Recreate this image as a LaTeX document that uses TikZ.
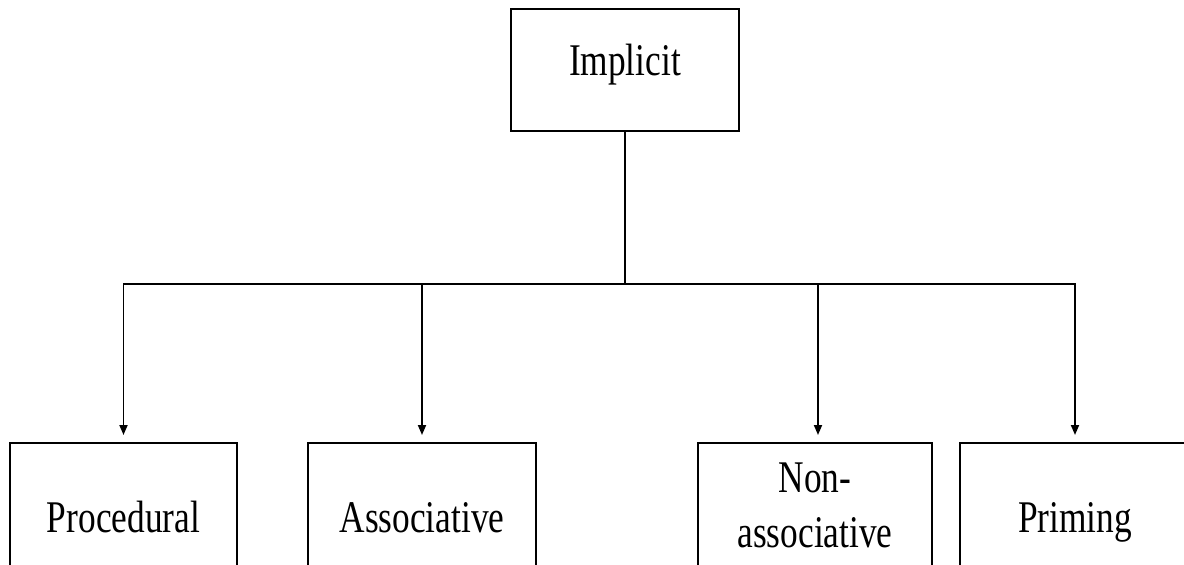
\documentclass[tikz,border=0pt]{standalone}
\usepackage{fontspec}
\setmainfont{Liberation Serif}
\newfontfamily\boxfont[FakeStretch=0.78]{Liberation Serif}
\usetikzlibrary{arrows.meta}
\begin{document}
\begin{tikzpicture}[x=0.5pt,y=-0.5pt,
  box/.style={draw=black,line width=1pt,fill=white,inner sep=0pt,
    font=\boxfont\fontsize{22.65}{27.5}\selectfont,align=center},
  oneline/.style={box,text height=15.5pt,text depth=5pt,minimum height=78.5pt},
  link/.style={draw=black,line width=0.9pt},
  arr/.style={link,-{Triangle[length=5pt,width=4pt]},shorten >=3.5pt}]
  \clip (0,0) rectangle (1184,564);
  \useasboundingbox (0,0) rectangle (1184,564);
  \fill[white] (0,0) rectangle (1184,564);

  % root
  \node[box,text height=15.5pt,text depth=10.5pt,minimum width=114pt,minimum height=61pt]
    (implicit) at (625,70) {Implicit};

  % children (their lower parts run past the lower edge)
  \node[oneline,minimum width=113.5pt] (proc)  at (123.5,521.5) {Procedural};
  \node[oneline,minimum width=114pt]   (assoc) at (422,521.5)   {Associative};
  \node[box,minimum width=117pt,minimum height=62.5pt] (nonas) at (815,505.5) {Non-\\associative};
  \node[oneline,minimum width=115pt]   (prim)  at (1075,521.5)  {Priming};

  % trunk and branches
  \coordinate (bus) at (625,284);
  \draw[link] (implicit.south) -- (bus);
  \draw[arr] (bus) -| (proc.north);
  \draw[arr] (bus) -| (assoc.north);
  \draw[arr] (bus) -| ([xshift=1.5pt]nonas.north);
  \draw[arr] (bus) -| (prim.north);
\end{tikzpicture}
\end{document}
